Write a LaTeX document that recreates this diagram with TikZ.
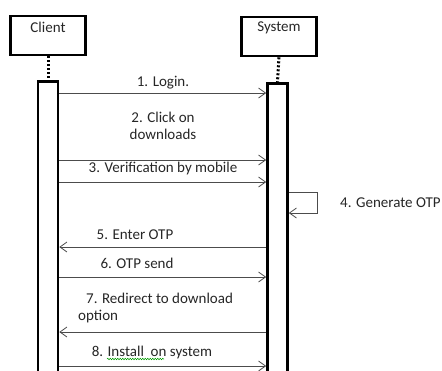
\documentclass[tikz,border=0pt]{standalone}
\usepackage{fontspec}
\setmainfont{Carlito}
\usetikzlibrary{arrows.meta,positioning,decorations.pathmorphing}
\tikzset{
  obj/.style={draw,line width=2.6pt,minimum width=75pt,minimum height=39pt,inner sep=0pt},
  bar/.style={draw,line width=2.6pt,minimum width=20pt,inner sep=0pt,anchor=north},
  life/.style={line width=3pt,dash pattern=on 2pt off 2pt},
  msg/.style={-{Straight Barb[length=7pt,width=10pt,line width=0.8pt]},line width=0.8pt,black!70},
  lbl/.style={font=\fontsize{15}{17}\selectfont,align=center,text=black!85,inner sep=3pt},
}

\begin{document}
\begin{tikzpicture}[x=1pt,y=-1pt]
\useasboundingbox (0,0) rectangle (442,370);
\node[obj] (cl) at (48,35.5) {};
\node[obj] (sy) at (279,36.5) {};
\node[lbl] at (48,27) {Client};
\node[lbl] at (279,28) {System};
\node[bar,minimum height=300pt] (cb) at (48,80) {};
\node[bar,minimum height=300pt] (sb) at (277.5,82) {};
\draw[life] (cl.south) -- (cb.north);
\draw[life] (sy.south) -- (sb.north);
\foreach \y in {93,160,182,277,366} {\draw[msg] (cb.east |- 0,\y) -- (sb.west |- 0,\y);}
\foreach \y in {247,332} {\draw[msg] (sb.west |- 0,\y) -- (cb.east |- 0,\y);}
\coordinate (lp) at (317,192);
\draw[msg] (sb.east |- lp) -| (lp |- 0,213) -- (sb.east |- 0,213);
\foreach \x/\y/\t in {163/83/{1. Login.},163/125.5/{2. Click on\\downloads},163/168/{3. Verification by mobile},135/235/{5. Enter OTP},137/263/{6. OTP send}} {\node[lbl] at (\x,\y) {\t};}
\node[lbl,anchor=west] (g4) at (337,203) {4. Generate OTP};
\node[lbl,align=left,anchor=west] (m7) at (75,307.5) {\hspace{8pt}7. Redirect to download\\option};
\node[lbl] (m8) at (152,352) {8. Install\ \ on system};
\draw[green!60!black,line width=0.5pt,decorate,decoration={snake,amplitude=0.8pt,segment length=2.5pt}] (107,359) -- (164,359);
\end{tikzpicture}
\end{document}
